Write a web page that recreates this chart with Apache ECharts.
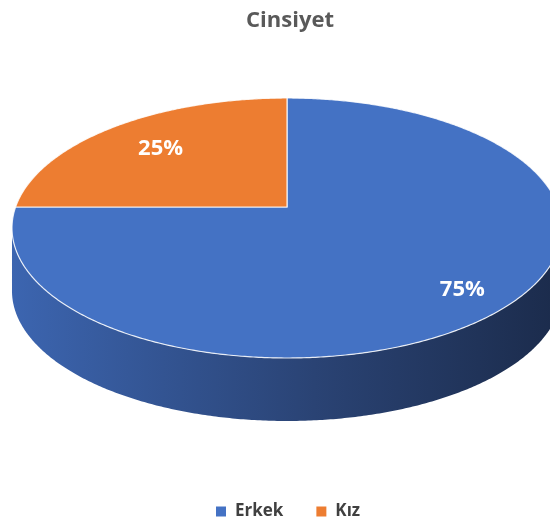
<!DOCTYPE html>
<html lang="tr" style="height: 100%">
<head>
  <meta charset="utf-8">
  <title>Cinsiyet</title>
</head>
<body style="height: 100%; margin: 0">
  <div id="container" style="width: 550px; height: 518px"></div>

  <script type="text/javascript" src="https://cdn.jsdelivr.net/npm/echarts@6/dist/echarts.min.js"></script>
  <script type="text/javascript">
    // veri
    const categories = ['Erkek', 'Kız'];
    const values = [75, 25];
    const colors = ['#4472C4', '#ED7D31'];
    const sideColors = [['#3c65b0', '#2a4374', '#1b2b4b'], ['#c9651f', '#9a4d17', '#6e3610']];

    const total = values.reduce(function (a, b) { return a + b; }, 0);

    // 3B pasta görünümü (perspektif)
    const K = 0.1615;
    const geo = { px: 287, py: 207, A: 126.6, B: 271.4, depth: 63 };

    function project(r, th, dy) {
      const u = r * Math.cos(th);
      const v = r * Math.sin(th);
      const d = 1 - K * v;
      return [geo.px + geo.B * u / d, geo.py + geo.A * v / d + (dy || 0)];
    }

    function arcPoints(a0, a1, dy) {
      const n = Math.max(2, Math.ceil(Math.abs(a1 - a0) / (Math.PI / 360)));
      const pts = [];
      for (let i = 0; i <= n; i++) {
        pts.push(project(1, a0 + (a1 - a0) * i / n, dy));
      }
      return pts;
    }

    function renderSlice(params, api) {
      const idx = params.seriesIndex;
      const value = api.value(0);
      let start = 0;
      for (let i = 0; i < idx; i++) start += values[i];
      const a0 = -Math.PI / 2 + 2 * Math.PI * start / total;
      const a1 = a0 + 2 * Math.PI * value / total;
      const children = [];

      // yan yüzey (sadece önde görünen kısım)
      const f0 = Math.asin(K);
      const f1 = Math.PI - Math.asin(K);
      const left = geo.px - geo.B / Math.sqrt(1 - K * K);
      const right = geo.px + geo.B / Math.sqrt(1 - K * K);
      [-2 * Math.PI, 0, 2 * Math.PI].forEach(function (s) {
        const lo = Math.max(a0, f0 + s);
        const hi = Math.min(a1, f1 + s);
        if (hi > lo) {
          const topArc = arcPoints(lo, hi, 0);
          const botArc = arcPoints(lo, hi, geo.depth).reverse();
          children.push({
            type: 'polygon',
            shape: { points: topArc.concat(botArc) },
            style: {
              fill: {
                type: 'linear', x: left, y: 0, x2: right, y2: 0, global: true,
                colorStops: [
                  { offset: 0, color: sideColors[idx][0] },
                  { offset: 0.55, color: sideColors[idx][1] },
                  { offset: 1, color: sideColors[idx][2] }
                ]
              },
              stroke: null
            }
          });
        }
      });

      // üst yüzey
      const pts = [[geo.px, geo.py]].concat(arcPoints(a0, a1, 0));
      children.push({
        type: 'polygon',
        shape: { points: pts },
        style: { fill: colors[idx], stroke: 'rgba(255,255,255,0.85)', lineWidth: 1.2 }
      });

      // etiket
      const mid = (a0 + a1) / 2;
      const lp = project(0.78, mid, 0);
      children.push({
        type: 'text',
        x: lp[0] + 11,
        y: lp[1] + 6,
        style: {
          text: Math.round(value / total * 100) + '%',
          fill: '#ffffff',
          font: 'bold 22px "Open Sans"',
          align: 'center',
          verticalAlign: 'middle'
        }
      });

      return { type: 'group', children: children };
    }

    var dom = document.getElementById('container');
    var myChart = echarts.init(dom, null, { renderer: 'canvas' });

    var option = {
      animation: false,
      title: {
        text: 'Cinsiyet',
        left: 285,
        top: 5,
        textAlign: 'center',
        textStyle: {
          fontFamily: 'Open Sans',
          fontWeight: 'bold',
          fontSize: 22,
          color: '#595959'
        }
      },
      legend: {
        data: categories,
        left: 211,
        top: 498,
        icon: 'rect',
        itemWidth: 10,
        itemHeight: 10,
        itemGap: 33,
        textStyle: {
          fontFamily: 'Open Sans',
          fontWeight: 'bold',
          fontSize: 17,
          color: '#404040',
          padding: [0, 0, 0, 4]
        }
      },
      series: categories.map(function (name, i) {
        return {
          type: 'custom',
          name: name,
          coordinateSystem: 'none',
          itemStyle: { color: colors[i] },
          renderItem: renderSlice,
          data: [[values[i]]]
        };
      })
    };

    myChart.setOption(option);
    window.addEventListener('resize', myChart.resize);
  </script>
</body>
</html>
